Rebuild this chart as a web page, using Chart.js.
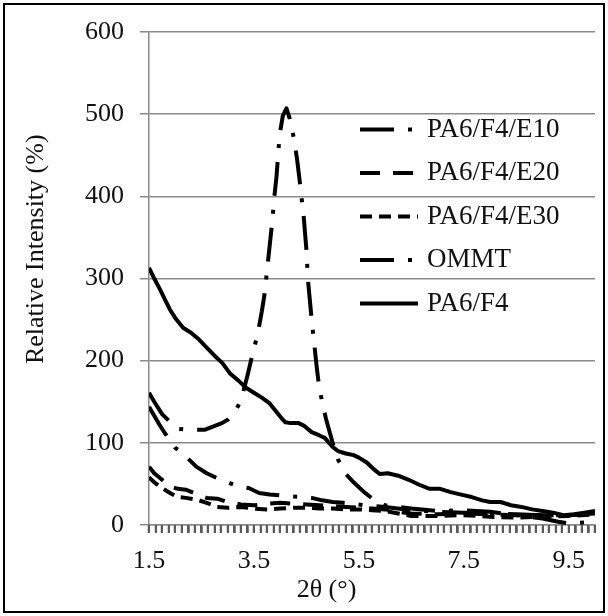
<!DOCTYPE html>
<html>
<head>
<meta charset="utf-8">
<script src="https://cdn.jsdelivr.net/npm/chart.js@4.4.1/dist/chart.umd.min.js"></script>
<style>
  html, body { margin: 0; padding: 0; background: #fff; }
  #wrap { position: relative; width: 608px; height: 616px; }
  #frame { position: absolute; left: 3px; top: 3px; right: 3px; bottom: 3px; border: 2px solid #000; }
  canvas { position: absolute; left: 0; top: 0; }
</style>
</head>
<body>
<div id="wrap"><div id="frame"></div><canvas id="myChart" width="608" height="616"></canvas></div>
<script>
// series: 2theta (deg) and relative intensity (%)
const e10X = [1.5, 1.6, 1.7, 1.8, 1.87, 2.0, 2.13, 2.4, 2.6, 2.8, 3.0, 3.2, 3.4, 3.6, 3.8, 4.0, 4.2, 4.4, 4.6, 4.8, 5.0, 5.2, 5.4, 5.6, 5.8, 6.0, 6.5, 7.0, 7.5, 8.0, 8.5, 9.0, 9.5, 10.0];
const e10Y = [144, 133, 122, 112, 106, 94, 88, 71, 63, 57, 52, 47, 45, 39, 37, 36, 35, 34, 33, 30, 28, 27, 26, 24, 23, 22, 18, 16, 15, 14, 13, 12, 12, 14];

const e20X = [1.5, 1.6, 1.75, 1.9, 2.05, 2.2, 2.4, 2.6, 2.8, 3.0, 3.25, 3.5, 3.75, 4.0, 4.25, 4.5, 4.75, 5.0, 5.25, 5.5, 5.75, 6.0, 6.25, 6.5, 7.0, 7.5, 8.0, 8.5, 9.0, 9.5, 10.0];
const e20Y = [71, 63, 55, 47, 44, 43, 38, 33, 32, 28, 25, 24, 26, 27, 26, 25, 24, 23, 22, 21, 20, 19, 16, 14, 13, 14, 13, 12, 12, 12, 14];

const e30X = [1.5, 1.6, 1.75, 1.9, 2.05, 2.2, 2.4, 2.6, 2.8, 3.0, 3.25, 3.5, 3.75, 4.0, 4.25, 4.5, 4.75, 5.0, 5.25, 5.5, 5.75, 6.0, 6.25, 6.5, 7.0, 7.5, 8.0, 8.5, 9.0, 9.5, 10.0];
const e30Y = [58, 52, 45, 39, 34, 33, 31, 27, 22, 21, 22, 20, 19, 20, 21, 21, 20, 20, 19, 19, 18, 17, 14, 11, 11, 12, 10, 9, 10, 11, 13];

const ommtX = [1.5, 1.6, 1.75, 1.91, 2.05, 2.23, 2.57, 2.89, 3.0, 3.1, 3.2, 3.28, 3.38, 3.47, 3.57, 3.65, 3.7, 3.75, 3.8, 3.85, 3.89, 3.93, 3.96, 3.99, 4.05, 4.12, 4.18, 4.26, 4.32, 4.37, 4.45, 4.5, 4.53, 4.6, 4.65, 4.7, 4.75, 4.87, 5.0, 5.1, 5.25, 5.4, 5.6, 5.8, 6.0, 6.5, 7.0, 7.5, 8.0, 8.5, 9.0, 9.3, 9.5, 9.8];
const ommtY = [161, 150, 135, 125, 117, 116, 116, 124, 128, 135, 145, 158, 183, 207, 232, 260, 280, 310, 340, 370, 400, 424, 450, 475, 498, 507, 495, 471, 446, 420, 374, 335, 298, 250, 220, 190, 165, 130, 100, 80, 62, 52, 40, 30, 24, 20, 17, 18, 16, 12, 8, 4, 2, 3];

const f4X = [1.5, 1.6, 1.7, 1.8, 1.9, 2.0, 2.15, 2.3, 2.45, 2.6, 2.75, 2.9, 3.05, 3.2, 3.35, 3.5, 3.65, 3.8, 3.9, 4.0, 4.1, 4.2, 4.35, 4.45, 4.6, 4.75, 4.85, 5.0, 5.1, 5.25, 5.4, 5.5, 5.65, 5.8, 5.9, 6.05, 6.25, 6.45, 6.65, 6.85, 7.05, 7.25, 7.45, 7.65, 7.85, 8.0, 8.2, 8.4, 8.6, 8.8, 9.0, 9.2, 9.4, 9.6, 9.8, 10.0];
const f4Y = [313, 300, 288, 275, 262, 252, 240, 234, 226, 216, 206, 197, 184, 176, 167, 161, 155, 148, 140, 132, 125, 124, 124, 121, 113, 109, 106, 95, 90, 87, 85, 82, 76, 67, 62, 63, 60, 55, 49, 44, 44, 40, 37, 34, 30, 28, 28, 24, 22, 19, 17, 15, 12, 13, 15, 17];

const legendOrder = ['PA6/F4/E10', 'PA6/F4/E20', 'PA6/F4/E30', 'OMMT', 'PA6/F4'];
const yTicks = [0, 100, 200, 300, 400, 500, 600];
const xLabels = [1.5, 3.5, 5.5, 7.5, 9.5];

// minor tick marks along the x axis, every 0.125
const xTicks = [];
for (let i = 0; i <= 68; i++) xTicks.push(1.5 + i * 0.125);

const gray = '#8a8a8a';
const tickGray = '#5a5a5a';
const serif = 'Liberation Serif';

function pts(xs, ys) {
	return xs.map((x, i) => ({ x: x, y: ys[i] }));
}

function line(label, xs, ys, dash) {
	return {
		label: label,
		data: pts(xs, ys),
		borderColor: '#000',
		borderWidth: 4,
		borderDash: dash,
		borderCapStyle: 'butt',
		borderJoinStyle: 'round',
		pointRadius: 0,
		tension: 0,
		fill: false
	};
}

// tick marks under the x axis, drawn as small filled bars
function drawXTicks(chart) {
	const sx = chart.scales.x;
	const ctx = chart.ctx;
	const y0 = Math.round(sx.top);
	ctx.save();
	ctx.fillStyle = tickGray;
	xTicks.forEach(v => {
		const px = Math.round(sx.getPixelForValue(v));
		ctx.fillRect(px - 1, y0, 2, 8);
	});
	ctx.restore();
}

// legend that sits inside the plot, like the original
const overlay = {
	id: 'overlay',
	afterDatasetsDraw(chart) {
		const ctx = chart.ctx;
		const area = chart.chartArea;
		const x0 = area.left + 211;
		const x1 = x0 + 58;
		legendOrder.forEach((name, i) => {
			const ds = chart.data.datasets.find(d => d.label === name);
			const y = area.top + 97.5 + i * 43.5;
			ctx.save();
			ctx.strokeStyle = ds.borderColor;
			ctx.lineWidth = ds.borderWidth;
			ctx.setLineDash(ds.borderDash || []);
			ctx.beginPath();
			ctx.moveTo(x0, y);
			ctx.lineTo(x1, y);
			ctx.stroke();
			ctx.setLineDash([]);
			ctx.fillStyle = '#111';
			ctx.font = '27px "' + serif + '"';
			ctx.textBaseline = 'middle';
			ctx.fillText(name, x1 + 9, y);
			ctx.restore();
		});
	},
	afterDraw(chart) {
		drawXTicks(chart);
	}
};

new Chart('myChart', {
	type: 'line',
	data: {
		datasets: [
			line('PA6/F4/E10', e10X, e10Y, [34, 14, 4, 14]),
			line('PA6/F4/E20', e20X, e20Y, [20, 13]),
			line('PA6/F4/E30', e30X, e30Y, [12, 7]),
			line('OMMT', ommtX, ommtY, [34, 14, 4, 14]),
			line('PA6/F4', f4X, f4Y, [])
		]
	},
	options: {
		responsive: false,
		animation: false,
		layout: { padding: { top: 32, right: 10, left: 0, bottom: 0 } },
		plugins: {
			legend: { display: false },
			tooltip: { enabled: false }
		},
		scales: {
			x: {
				type: 'linear',
				min: 1.5,
				max: 10,
				afterBuildTicks: s => { s.ticks = xTicks.map(v => ({ value: v })); },
				ticks: {
					autoSkip: false,
					maxRotation: 0,
					minRotation: 0,
					padding: 13,
					color: '#111',
					font: { family: serif, size: 26 },
					callback: v => xLabels.some(l => Math.abs(l - v) < 1e-6) ? v.toFixed(1) : ''
				},
				grid: {
					display: true,
					drawOnChartArea: false,
					drawTicks: true,
					tickLength: 8,
					tickColor: tickGray,
					tickWidth: 2,
					color: gray,
					lineWidth: 1.5
				},
				border: { color: gray, width: 1.5 },
				title: {
					display: true,
					text: '2θ (°)' + ' '.repeat(14),
					color: '#111',
					font: { family: serif, size: 26 },
					padding: { top: 0, bottom: 10 }
				},
				afterFit: s => { s.height = 91; }
			},
			y: {
				min: 0,
				max: 600,
				afterBuildTicks: s => { s.ticks = yTicks.map(v => ({ value: v })); },
				ticks: {
					padding: 16,
					color: '#111',
					font: { family: serif, size: 26 }
				},
				grid: { color: gray, lineWidth: 1.5, tickLength: 9 },
				border: { color: gray, width: 1.5 },
				title: {
					display: true,
					text: ' '.repeat(9) + 'Relative Intensity (%)',
					color: '#111',
					font: { family: serif, size: 26 },
					padding: { top: 21, bottom: 0 }
				},
				afterFit: s => { s.width = 149; }
			}
		}
	},
	plugins: [overlay]
});
</script>
</body>
</html>
